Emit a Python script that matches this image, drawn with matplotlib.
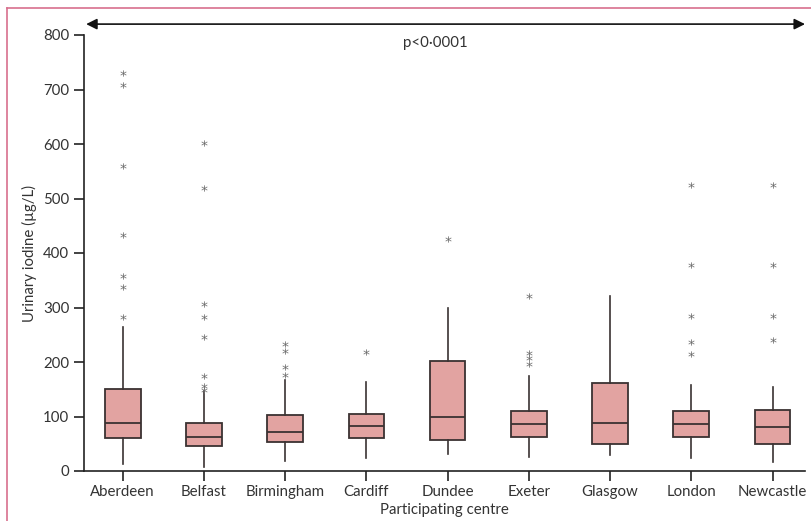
import matplotlib
matplotlib.use("Agg")
import matplotlib.pyplot as plt
import matplotlib.transforms as mtransforms
from matplotlib.lines import Line2D

plt.rcParams['font.family'] = ['Lato', 'DejaVu Sans']

centres = ["Aberdeen", "Belfast", "Birmingham", "Cardiff", "Dundee",
           "Exeter", "Glasgow", "London", "Newcastle"]
whisker_low = [13, 8, 19, 23, 32, 25, 29, 23, 16]
q1 = [60, 45, 53, 60, 56, 63, 49, 63, 50]
median = [88, 63, 71, 83, 99, 86, 88, 87, 80]
q3 = [150, 88, 102, 105, 201, 111, 161, 110, 112]
whisker_high = [264, 146, 167, 163, 299, 174, 321, 157, 155]
outliers = [
    [730, 708, 560, 433, 358, 338, 283],
    [601, 519, 306, 283, 246, 175, 156, 148],
    [233, 221, 191, 176],
    [219],
    [426],
    [322, 217, 207, 196],
    [],
    [525, 378, 285, 237, 214],
    [525, 378, 285, 240],
]
yticks = [0, 100, 200, 300, 400, 500, 600, 700, 800]

fig = plt.figure(figsize=(8.12, 5.21), dpi=100)
ax = fig.add_axes([84/812, 50/521, (805-84)/812, (471-35)/521])

stats = []
for i, name in enumerate(centres):
    stats.append(dict(label=name, whislo=whisker_low[i], q1=q1[i], med=median[i],
                      q3=q3[i], whishi=whisker_high[i], fliers=outliers[i]))

edge = '#3a3232'
bp = ax.bxp(stats, positions=range(1, 10), widths=0.44, patch_artist=True,
            showcaps=False,
            boxprops=dict(facecolor='#e2a3a1', edgecolor=edge, linewidth=1.3),
            medianprops=dict(color=edge, linewidth=1.3),
            whiskerprops=dict(color=edge, linewidth=1.2),
            flierprops=dict(marker='$*$', markersize=4.5, markeredgewidth=0,
                            markerfacecolor='#6a6a6a', markeredgecolor='#6a6a6a',
                            linestyle='none'))

ax.set_xlim(1 - 0.477, 9 + 0.4)
ax.set_ylim(0, 800)
ax.set_yticks(yticks)
ax.spines['top'].set_visible(False)
ax.spines['right'].set_visible(False)
for s in ['left', 'bottom']:
    ax.spines[s].set_color('#222222')
    ax.spines[s].set_linewidth(1.2)
ax.tick_params(axis='both', direction='out', length=7, width=1.2, color='#222222',
               labelsize=10.8, labelcolor='#333333')
ax.tick_params(axis='x', pad=3)
ax.set_xticklabels(centres)
ax.set_xlabel("Participating centre", fontsize=10.8, color='#333333', labelpad=3)
ax.set_ylabel("Urinary iodine (µg/L)", fontsize=10.8, color='#333333', labelpad=4)

ax.annotate('', xy=(1.0, 820), xytext=(0.003, 820),
            xycoords=('axes fraction', 'data'), textcoords=('axes fraction', 'data'),
            arrowprops=dict(arrowstyle='<|-|>', color='#111111', lw=1.2,
                            mutation_scale=16, shrinkA=0, shrinkB=0),
            annotation_clip=False)
blend = mtransforms.blended_transform_factory(ax.transAxes, ax.transData)
ax.text(0.487, 785, "p<0·0001", transform=blend,
        ha='center', va='center', fontsize=10.8, color='#333333')

pink = '#d86f8e'
fig.add_artist(Line2D([7/812, 7/812], [0, 1 - 8/521], transform=fig.transFigure,
                      color=pink, lw=1.2))
fig.add_artist(Line2D([7/812, 1], [1 - 8/521, 1 - 8/521], transform=fig.transFigure,
                      color=pink, lw=1.2))

fig.savefig("out.png", dpi=100)
